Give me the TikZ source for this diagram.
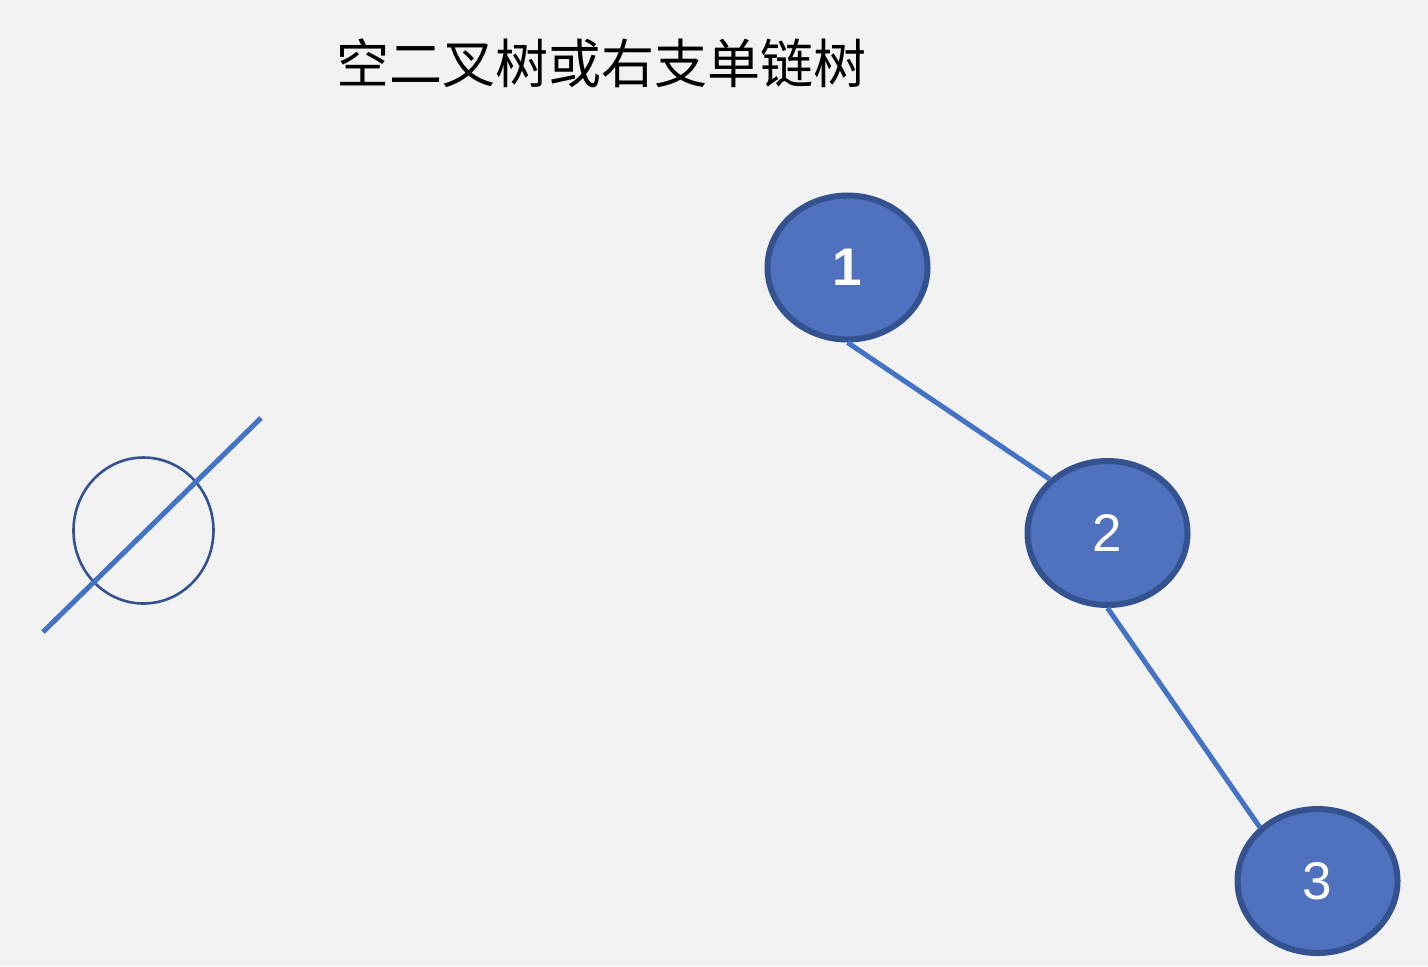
\documentclass[tikz,border=0pt]{standalone}
\usepackage{fontspec}
\setmainfont{Liberation Sans}
\newfontfamily\cjk{Noto Sans CJK SC}
\usetikzlibrary{shapes.geometric}
\definecolor{bg}{HTML}{F2F2F2}
\definecolor{nodefill}{HTML}{4F71BE}
\definecolor{nodeborder}{HTML}{34528F}
\definecolor{linkblue}{HTML}{4472C4}
\tikzset{
  treenode/.style={ellipse, draw=nodeborder, fill=nodefill, line width=3pt,
    minimum width=80pt, minimum height=72pt, inner sep=0pt, text=white,
    font=\fontsize{26.5}{30}\selectfont},
  link/.style={draw=linkblue, line width=2.5pt},
  emptycircle/.style={ellipse, draw=nodeborder, line width=1.3pt,
    minimum width=70pt, minimum height=73pt, inner sep=0pt},
  titletext/.style={font=\cjk\fontsize{26.5}{30}\selectfont, text=black}
}
\begin{document}
\begin{tikzpicture}[x=0.5pt, y=-0.5pt]
\fill[bg] (0,0) rectangle (1428,966);
\useasboundingbox (0,0) rectangle (1428,966);
\node[titletext] (title) at (601,63) {空二叉树或右支单链树};
\node[emptycircle] (empty) at (143.5,530.5) {};
\coordinate (slashA) at (43,632);
\coordinate (slashB) at (261,418);
\draw[link] (slashA) -- (slashB);
\node[treenode] (n1) at (847.5,267.5) {\textbf{1}};
\node[treenode] (n2) at (1107.5,533) {2};
\node[treenode] (n3) at (1317.5,881) {3};
\draw[link] (n1.south) -- (n2.137.6);
\draw[link] (n2.south) -- (n3.137.6);
\end{tikzpicture}
\end{document}
